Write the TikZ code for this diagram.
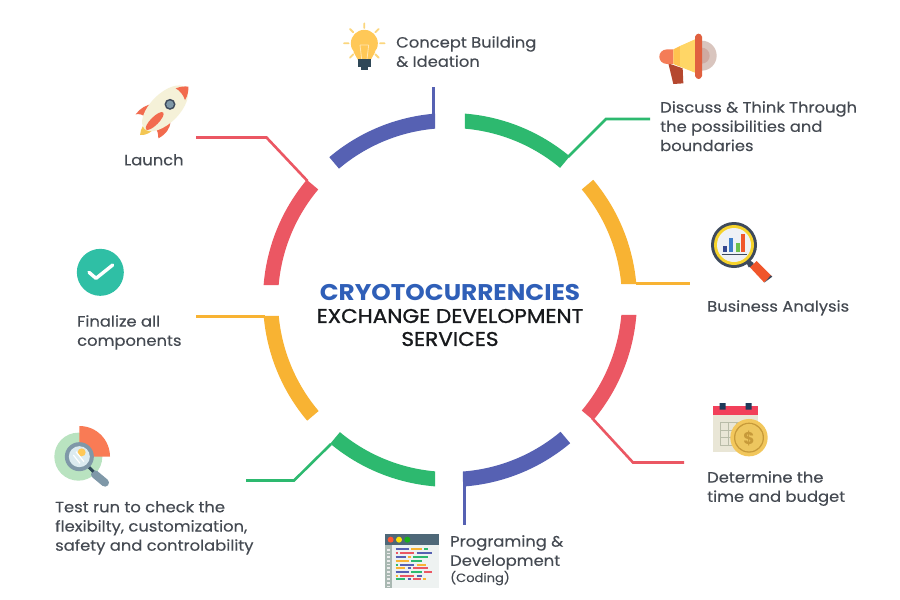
\documentclass[tikz,border=0pt]{standalone}
\usepackage{fontspec}
\setmainfont{Poppins}
\newfontfamily\lab[FakeBold=0.25,FakeStretch=1.09]{Poppins}
\newfontfamily\headb[FakeBold=1.2,FakeStretch=1.09]{Poppins}
\newfontfamily\heada[FakeStretch=1.09]{Poppins}
\definecolor{rblue}{HTML}{5661B3}
\definecolor{rgreen}{HTML}{2DB96F}
\definecolor{ryellow}{HTML}{F8B333}
\definecolor{rred}{HTML}{EB5763}
\definecolor{ink}{HTML}{454A52}
\definecolor{titleblue}{HTML}{2F5FB8}
\definecolor{titleink}{HTML}{17191C}
\definecolor{bulb}{HTML}{FFC857}
\definecolor{bulbray}{HTML}{FBD67D}
\definecolor{slate}{HTML}{2F4858}
\definecolor{discO}{HTML}{D9C5BE}
\definecolor{discI}{HTML}{CFAAA1}
\definecolor{mbar}{HTML}{E0603F}
\definecolor{mcone}{HTML}{FFD666}
\definecolor{mconeD}{HTML}{FFC24F}
\definecolor{mhand}{HTML}{F47C57}
\definecolor{mlow}{HTML}{B5472F}
\definecolor{mgdark}{HTML}{3E4A5C}
\definecolor{mgyel}{HTML}{F6D32B}
\definecolor{mgin}{HTML}{EEF1F6}
\definecolor{barN}{HTML}{34478F}
\definecolor{barB}{HTML}{3D7CC9}
\definecolor{barG}{HTML}{6CC04A}
\definecolor{barO}{HTML}{F0562B}
\definecolor{paper}{HTML}{E9E6D6}
\definecolor{cell}{HTML}{B9BCA8}
\definecolor{calred}{HTML}{F2405A}
\definecolor{tab}{HTML}{1F3A5A}
\definecolor{gold}{HTML}{F2C75C}
\definecolor{goldD}{HTML}{C79A3A}
\definecolor{goldM}{HTML}{EDC65F}
\definecolor{wintop}{HTML}{4E6878}
\definecolor{winbody}{HTML}{EEF2F1}
\definecolor{wingut}{HTML}{A9B8B2}
\definecolor{tring}{HTML}{B9E3C0}
\definecolor{tsect}{HTML}{F97B55}
\definecolor{glass}{HTML}{7F98A8}
\definecolor{glassin}{HTML}{DCEBF0}
\definecolor{rbody}{HTML}{F5F1D8}
\definecolor{rfin}{HTML}{F26B4E}
\definecolor{rflame}{HTML}{F3C653}
\definecolor{checkc}{HTML}{2FBFA5}
% outer start, outer end, inner start, inner end, colour
\newcommand{\ringseg}[5]{\fill[#5] ([shift={(450,-300)}]#1:187) arc[start angle=#1,end angle=#2,radius=187pt] -- ([shift={(450,-300)}]#4:172) arc[start angle=#4,end angle=#3,radius=172pt] -- cycle;}
\tikzset{
  lab/.style={anchor=north west,inner sep=0pt,align=left,text=ink,font=\lab\fontsize{15}{19.2}\selectfont},
  conn/.style={line width=2.6pt,line cap=butt,line join=miter},
  zoomed/.style args={#1/#2}{shift={(#1,-#2)},x=.33333pt,y=-.33333pt},
}
\begin{document}
\begin{tikzpicture}[x=1pt,y=1pt]
\useasboundingbox[fill=white] (0,0) rectangle (900,-600);
% ring
\ringseg{94.6}{130.2}{95.0}{130.2}{rblue}
\ringseg{85.4}{50.2}{85.0}{50.2}{rgreen}
\ringseg{40}{4.9}{40}{5.3}{ryellow}
\ringseg{-4.6}{-40}{-5.0}{-40}{rred}
\ringseg{-50}{-86.0}{-50}{-85.7}{rblue}
\ringseg{-94.6}{-129.8}{-95.0}{-129.8}{rgreen}
\ringseg{-139.8}{-175.1}{-139.8}{-174.7}{ryellow}
\ringseg{175.4}{140}{175.0}{140}{rred}
% connector anchors
\coordinate (c1a) at (433.5,-87); \coordinate (c1b) at (433.5,-114);
\coordinate (c2a) at (568,-157); \coordinate (c2b) at (606,-119); \coordinate (c2c) at (650,-119);
\coordinate (c3a) at (636,-283.5); \coordinate (c3b) at (690,-283.5);
\coordinate (c4a) at (592,-418); \coordinate (c4b) at (633,-462.5); \coordinate (c4c) at (684,-462.5);
\coordinate (c5a) at (464.5,-486); \coordinate (c5b) at (464.5,-525);
\coordinate (c6a) at (331,-444); \coordinate (c6b) at (294,-480.5); \coordinate (c6c) at (246,-480.5);
\coordinate (c7a) at (265,-316.5); \coordinate (c7b) at (196,-316.5);
\coordinate (c8a) at (307.5,-181); \coordinate (c8b) at (266.5,-137.5); \coordinate (c8c) at (196,-137.5);
\draw[conn,rblue] (c1a) -- (c1b);
\draw[conn,rgreen] (c2a) -- (c2b) -- (c2c);
\draw[conn,ryellow] (c3a) -- (c3b);
\draw[conn,rred] (c4a) -- (c4b) -- (c4c);
\draw[conn,rblue] (c5a) -- (c5b);
\draw[conn,rgreen] (c6a) -- (c6b) -- (c6c);
\draw[conn,ryellow] (c7a) -- (c7b);
\draw[conn,rred] (c8a) -- (c8b) -- (c8c);
% centre title
\node[inner sep=0pt,text=titleblue,font=\heada\bfseries\fontsize{22.7}{24}\selectfont] (t1) at (450,-292) {CRYOTOCURRENCIES};
\node[inner sep=0pt,text=titleink,font=\headb\fontsize{19.8}{22}\selectfont] (t2) at (450,-316) {EXCHANGE DEVELOPMENT};
\node[inner sep=0pt,text=titleink,font=\headb\fontsize{19.8}{22}\selectfont] (t3) at (450,-339) {SERVICES};
% labels
\node[lab] (l1) at (396,-36) {Concept Building\\\& Ideation};
\node[lab] (l2) at (660,-101) {Discuss \& Think Through\\the possibilities and\\boundaries};
\node[lab] (l3) at (707,-300) {Business Analysis};
\node[lab] (l4) at (707,-471) {Determine the\\time and budget};
\node[lab] (l5) at (450,-535) {Programing \&\\Development\\[-3pt]{\fontsize{12}{14}\selectfont (Coding)}};
\node[lab] (l6) at (55,-501) {Test run to check the\\flexibilty, customization,\\safety and controlability};
\node[lab] (l7) at (77,-315) {Finalize all\\components};
\node[lab] (l8) at (124,-154) {Launch};
% bulb
\begin{scope}[zoomed=320/10]
  \draw[line width=1.8pt,color=bulbray,line cap=round] (133,40)--(133,54) (90,57)--(100,67) (176,57)--(166,67) (72,100)--(86,100) (180,100)--(194,100) (90,143)--(100,133) (176,143)--(166,133);
  \fill[bulb] (133,100) circle[radius=13.5pt];
  \fill[bulb] (100,125) -- (166,125) -- (152,150) -- (114,150) -- cycle;
  \draw[white!55!bulb,line width=.8pt] (120,105) -- (125,148) (146,105) -- (141,148) (120,105) -- (146,105);
  \fill[slate] (114,148) rectangle (152,172);
  \fill[slate] (122,172) rectangle (144,179);
\end{scope}
% megaphone
\begin{scope}[zoomed=640/20]
  \fill[discO] (185,107) circle[radius=15pt];
  \fill[discI] (185,107) circle[radius=8pt];
  \fill[mlow] (85,130) -- (128,145) -- (130,190) -- (100,192) -- cycle;
  \fill[mhand] (100,88) -- (82,88) .. controls (50,88) and (50,132) .. (82,132) -- (100,132) -- cycle;
  \fill[mconeD] (100,88) -- (120,78) -- (120,140) -- (100,132) -- cycle;
  \fill[mcone] (120,78) -- (165,58) -- (165,158) -- (120,140) -- cycle;
  \fill[mbar] (165,50) .. controls (170,38) and (182,38) .. (186,50) -- (186,168) .. controls (182,180) and (170,180) .. (165,168) -- cycle;
\end{scope}
% business magnifier
\begin{scope}[zoomed=690/210]
  \fill[mgdark] (178,150) -- (190,158) -- (192,168) -- (176,172) -- (170,160) -- cycle;
  \fill[barO] (180,172) -- (200,153) -- (245,198) -- (222,217) -- cycle;
  \fill[mgdark] (232,208) -- (242,196) -- (247,200) -- (223,218) -- cycle;
  \fill[mgdark] (132,105) circle[radius=23pt];
  \fill[mgyel] (132,105) circle[radius=20pt];
  \fill[mgin] (132,105) circle[radius=17pt];
  \fill[barN] (100,107) rectangle (112,125);
  \fill[barB] (118,85) rectangle (130,125);
  \fill[barG] (137,100) rectangle (149,125);
  \fill[barO] (154,72) rectangle (166,125);
  \draw[mgdark,line width=.9pt] (95,132) -- (172,132);
\end{scope}
% calendar
\begin{scope}[zoomed=690/390]
  \fill[paper] (68,75) rectangle (205,185);
  \fill[calred] (68,48) rectangle (205,75);
  \fill[tab] (89,39) rectangle (107,59) (167,39) rectangle (185,59);
  \draw[cell,line width=1pt] (92,97) rectangle (160,165) (92,120) -- (160,120) (92,143) -- (160,143) (115,97) -- (115,165) (138,97) -- (138,165);
  \fill[gold] (177,143) circle[radius=18.7pt];
  \fill[goldD] (177,143) circle[radius=15pt];
  \fill[goldM] (177,143) circle[radius=13.7pt];
  \node[inner sep=0pt,text=goldD,font=\bfseries\fontsize{17}{17}\selectfont] (dollar) at (177,145) {\$};
\end{scope}
% code window
\begin{scope}[zoomed=370/500]
  \fill[winbody] (45,102) rectangle (207,263);
  \fill[wintop] (45,102) rectangle (207,135);
  \fill[wingut] (45,135) rectangle (65,263);
  \foreach \y in {147,158,169,180,191,202,213,224,235,246,257} {\fill[white!85!gray] (50,\y) rectangle (60,\y+5);}
  \fill[red!65!orange!80!white] (62,119) circle[radius=3pt];
  \fill[yellow!85!orange] (87,119) circle[radius=3pt];
  \fill[green!65!black!90!white] (112,119) circle[radius=3pt];
  \foreach \y/\a/\b/\c in {148/rblue/77/117,148/ryellow/124/156,148/rgreen/163/173,
    160/rred/77/83,160/rred/90/133,160/rblue/140/187,
    171/rblue/77/107,171/ryellow/113/122,171/rgreen/129/173,
    183/ryellow/77/117,183/rgreen/124/156,
    194/rgreen/77/83,194/rblue/90/133,194/ryellow/140/167,
    205/ryellow/77/106,205/rblue/113/122,205/rred/129/175,
    216/rblue/77/117,216/rgreen/124/156,216/rred/163/187,
    227/ryellow/77/83,227/rred/90/133,227/rblue/140/156,
    238/rgreen/77/106,238/rblue/113/122,238/rred/129/154,238/ryellow/160/167}
    {\draw[\a,line width=1.7pt] (\b,\y) -- (\c,\y);}
\end{scope}
% test icon
\begin{scope}[zoomed=40/415]
  \fill[tring] (115,125) circle[radius=24pt];
  \fill[tsect] (118,125) -- (118,33) .. controls (170,33) and (210,75) .. (210,125) -- cycle;
  \draw[glass,line width=8pt,line cap=round] (165,178) -- (195,203);
  \draw[slate,line width=3pt] (145,155) -- (160,170);
  \fill[glass] (118,125) circle[radius=14.5pt];
  \fill[glassin] (118,125) circle[radius=10.5pt];
  \fill[bulb] (125,112) circle[radius=4pt];
  \draw[white,line width=1.2pt] (100,120) -- (120,145) (108,110) -- (132,140);
\end{scope}
% rocket
\begin{scope}[zoomed=120/75]
  \fill[rflame] (60,180) .. controls (62,160) and (72,145) .. (82,140) -- (103,160) .. controls (95,170) and (80,182) .. (60,180) -- cycle;
  \fill[rfin] (47,118) .. controls (60,100) and (80,88) .. (100,87) .. controls (88,100) and (85,115) .. (78,128) .. controls (68,118) and (58,116) .. (47,118) -- cycle;
  \fill[rfin] (115,190) .. controls (115,175) and (112,165) .. (103,153) .. controls (120,150) and (135,145) .. (152,140) .. controls (150,160) and (138,178) .. (115,190) -- cycle;
  \fill[rbody,rotate around={45:(135,100)}] (135,100) ellipse[x radius=29pt,y radius=14.5pt];
  \fill[rfin] (167,40) .. controls (180,35) and (195,33) .. (205,35) .. controls (206,48) and (203,62) .. (195,75) .. controls (190,60) and (180,47) .. (167,40) -- cycle;
  \fill[rfin,rotate around={-45:(104,138)}] (104,138) ellipse[x radius=4pt,y radius=12pt];
  \fill[mgdark] (150,88) circle[radius=5.5pt];
  \fill[glass] (150,88) circle[radius=3.8pt];
\end{scope}
% check badge
\begin{scope}[zoomed=60/240]
  \fill[checkc] (121,97) circle[radius=23.5pt];
  \draw[white,line width=3.4pt,line cap=round,line join=round] (87,97) -- (108,115) -- (158,75);
\end{scope}
\end{tikzpicture}
\end{document}
